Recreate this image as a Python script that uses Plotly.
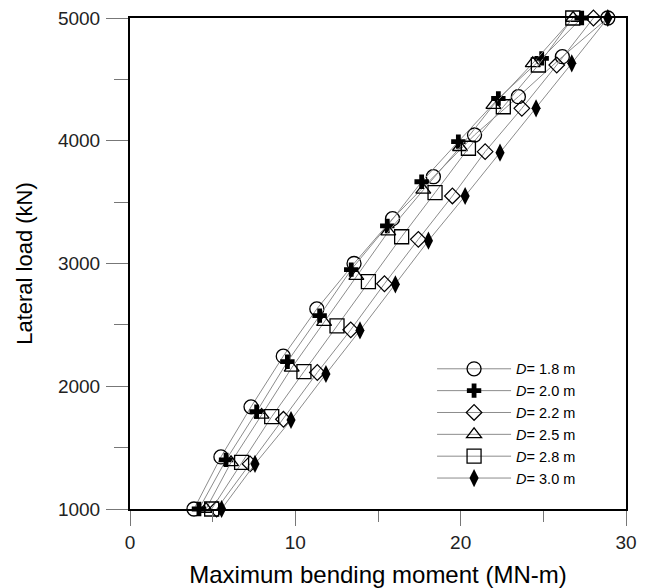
import plotly.graph_objects as go

# Lateral load (kN) vs maximum bending moment (MN-m) for pile diameters D
names = ["<i>D</i>= 1.8 m", "<i>D</i>= 2.0 m", "<i>D</i>= 2.2 m",
         "<i>D</i>= 2.5 m", "<i>D</i>= 2.8 m", "<i>D</i>= 3.0 m"]

x_18 = [3.87, 5.50, 7.32, 9.27, 11.30, 13.55, 15.88, 18.35, 20.84, 23.49, 26.15, 28.90]
y_18 = [1000, 1424, 1832, 2245, 2630, 3000, 3365, 3707, 4047, 4359, 4685, 5000]

x_20 = [4.17, 5.81, 7.66, 9.52, 11.47, 13.38, 15.56, 17.64, 19.86, 22.28, 24.90, 27.32]
y_20 = [1000, 1400, 1793, 2200, 2575, 2950, 3306, 3666, 3993, 4344, 4671, 5000]

x_22 = [5.24, 7.26, 9.28, 11.33, 13.35, 15.39, 17.44, 19.50, 21.48, 23.70, 25.81, 28.03]
y_22 = [1000, 1367, 1731, 2112, 2460, 2835, 3197, 3550, 3911, 4264, 4617, 5000]

x_25 = [4.60, 6.11, 7.96, 9.78, 11.74, 13.69, 15.62, 17.74, 19.96, 21.98, 24.36, 26.80]
y_25 = [1000, 1380, 1766, 2150, 2522, 2897, 3259, 3599, 3947, 4291, 4631, 5000]

x_28 = [4.94, 6.75, 8.57, 10.52, 12.52, 14.42, 16.43, 18.45, 20.47, 22.58, 24.70, 26.78]
y_28 = [1000, 1380, 1752, 2119, 2492, 2852, 3218, 3577, 3939, 4277, 4617, 5000]

x_30 = [5.54, 7.56, 9.74, 11.85, 13.91, 16.05, 18.05, 20.27, 22.38, 24.56, 26.72, 28.90]
y_30 = [1000, 1367, 1725, 2100, 2455, 2830, 3186, 3550, 3903, 4264, 4631, 5000]

series = [
    (x_18, y_18, dict(symbol="circle-open", size=14, color="black", line=dict(width=1.3, color="black"))),
    (x_20, y_20, dict(symbol="cross", size=12, color="black", line=dict(width=0))),
    (x_22, y_22, dict(symbol="diamond-open", size=12, color="black", line=dict(width=1.2, color="black"))),
    (x_25, y_25, dict(symbol="triangle-up-open", size=13, color="black", line=dict(width=1.3, color="black"))),
    (x_28, y_28, dict(symbol="square-open", size=14, color="black", line=dict(width=1.3, color="black"))),
    (x_30, y_30, dict(symbol="diamond-tall", size=13, color="black", line=dict(width=0))),
]

fig = go.Figure()
for (xs, ys, mk), nm in zip(series, names):
    fig.add_trace(go.Scatter(
        x=xs, y=ys, mode="lines+markers", name=nm,
        line=dict(color="#8c8c8c", width=1),
        marker=mk, cliponaxis=False,
    ))

FONT = "Liberation Sans, Arial, sans-serif"

# the page body adds an 8px margin, so the figure is sized/offset to compensate
fig.update_layout(
    width=643, height=580,
    margin=dict(l=122, r=25, t=10, b=79, autoexpand=False),
    paper_bgcolor="white", plot_bgcolor="white",
    font=dict(family=FONT, color="black", size=18),
    showlegend=True,
    legend=dict(
        x=0.609, y=0.318, xanchor="left", yanchor="top",
        bgcolor="rgba(0,0,0,0)", borderwidth=0,
        font=dict(size=14.5, family=FONT, color="black"),
        itemwidth=74, tracegroupgap=0,
    ),
)

fig.update_xaxes(
    range=[0, 30], dtick=10, tick0=0, automargin=False,
    showgrid=False, zeroline=False,
    showline=True, linecolor="black", linewidth=2, mirror=True,
    ticks="outside", ticklen=15, tickcolor="#777", tickwidth=1,
    ticklabeloverflow="allow",
    minor=dict(dtick=5, ticks="outside", ticklen=11, tickcolor="#777", tickwidth=1, showgrid=False),
    tickfont=dict(size=19, color="#222"),
    title=dict(text="Maximum bending moment (MN-m)", font=dict(size=24, color="black"), standoff=16),
)

fig.update_yaxes(
    range=[1000, 5000], dtick=1000, tick0=1000, automargin=False,
    showgrid=False, zeroline=False,
    showline=True, linecolor="black", linewidth=2, mirror=True,
    ticks="outside", ticklen=22, tickcolor="#777", tickwidth=1, ticklabelstandoff=2,
    ticklabeloverflow="allow",
    minor=dict(dtick=500, ticks="outside", ticklen=14, tickcolor="#777", tickwidth=1, showgrid=False),
    tickfont=dict(size=19, color="#222"),
    title=dict(text="Lateral load (kN)", font=dict(size=22, color="black"), standoff=19),
)

fig.write_html("out.html")
